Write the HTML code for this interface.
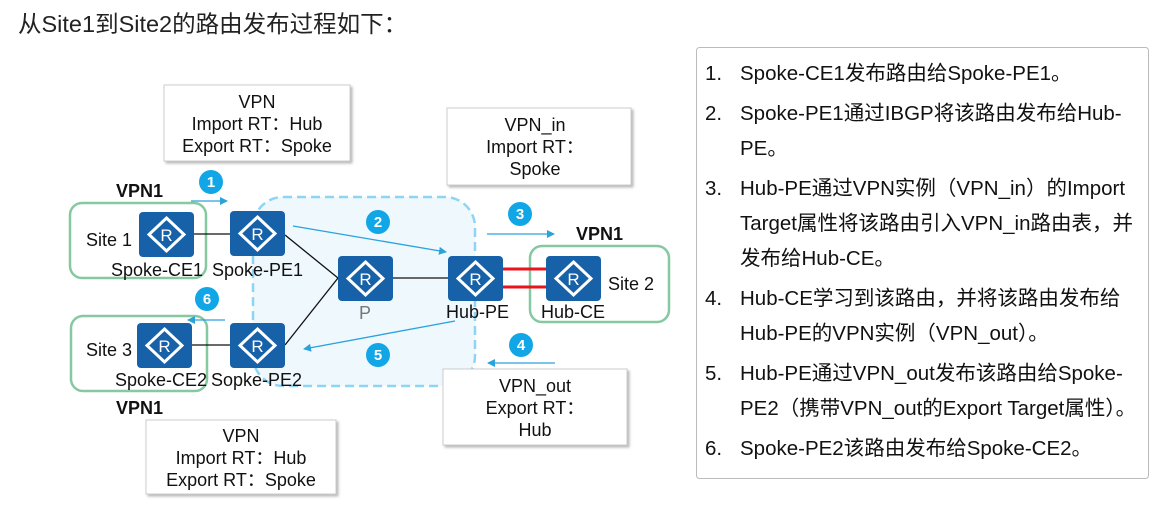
<!DOCTYPE html>
<html><head><meta charset="utf-8"><style>
body{margin:0;background:#fff;width:1167px;height:511px;overflow:hidden}
svg text{font-family:"Liberation Sans","Noto Sans CJK SC",sans-serif}
</style></head><body>
<svg width="1167" height="511" xmlns="http://www.w3.org/2000/svg">
<defs>
<g id="rt"><rect x="0" y="0" width="55" height="45" rx="4" fill="#1761a8"/>
<polygon points="27.5,6 45,22.5 27.5,39 10,22.5" fill="none" stroke="#fff" stroke-width="3"/>
<text x="27.5" y="29" font-size="17" fill="#fff" text-anchor="middle">R</text></g>
<marker id="ar" markerWidth="8" markerHeight="8" refX="7" refY="4" orient="auto" markerUnits="userSpaceOnUse"><path d="M0,0 L8,4 L0,8z" fill="#2aa2dc"/></marker>
<filter id="sh" x="-10%" y="-10%" width="130%" height="130%"><feDropShadow dx="2" dy="2" stdDeviation="1.2" flood-color="#888" flood-opacity="0.6"/></filter>
</defs>
<text x="18" y="32" font-size="23.5" fill="#222">从Site1到Site2的路由发布过程如下：</text>

<rect x="253" y="197" width="222" height="189" rx="30" fill="#eef8fd" stroke="#8ed4f5" stroke-width="2.5" stroke-dasharray="9,5"/>

<g filter="url(#sh)" fill="#fff" stroke="#ccc">
<rect x="164" y="85" width="186" height="76"/>
<rect x="447" y="108" width="184" height="77"/>
<rect x="443" y="369" width="184" height="76"/>
<rect x="146" y="420" width="190" height="74"/>
</g>
<g font-size="18" fill="#111" text-anchor="middle">
<text x="257" y="108">VPN</text><text x="257" y="130">Import RT：Hub</text><text x="257" y="152">Export RT：Spoke</text>
<text x="535" y="131">VPN_in</text><text x="535" y="153">Import RT：</text><text x="535" y="175">Spoke</text>
<text x="535" y="392">VPN_out</text><text x="535" y="414">Export RT：</text><text x="535" y="436">Hub</text>
<text x="241" y="442">VPN</text><text x="241" y="464">Import RT：Hub</text><text x="241" y="486">Export RT：Spoke</text>
</g>

<g fill="none" stroke="#86c9a0" stroke-width="2.5">
<rect x="70" y="203" width="136" height="75" rx="12"/>
<rect x="71" y="316" width="136" height="75" rx="12"/>
<rect x="530" y="246" width="139" height="76" rx="12"/>
</g>

<g stroke="#111" stroke-width="1.3">
<line x1="193" y1="234" x2="230" y2="234"/>
<line x1="192" y1="345" x2="230" y2="345"/>
<line x1="285" y1="235" x2="338" y2="278"/>
<line x1="285" y1="345" x2="338" y2="278"/>
<line x1="393" y1="278" x2="448" y2="278"/>
</g>
<g stroke="#e8141b" stroke-width="3">
<line x1="503" y1="269" x2="546" y2="269"/><line x1="503" y1="287" x2="546" y2="287"/>
</g>

<use href="#rt" x="139" y="212"/><use href="#rt" x="230" y="211"/>
<use href="#rt" x="338" y="256"/><use href="#rt" x="448" y="256"/>
<use href="#rt" x="546" y="256"/><use href="#rt" x="137" y="323"/>
<use href="#rt" x="230" y="323"/>

<g font-size="18" fill="#111">
<text x="86" y="246">Site 1</text><text x="86" y="356">Site 3</text><text x="608" y="290">Site 2</text>
<text x="111" y="276">Spoke-CE1</text><text x="212" y="276">Spoke-PE1</text>
<text x="115" y="386">Spoke-CE2</text><text x="211" y="386">Sopke-PE2</text>
<text x="446" y="318">Hub-PE</text><text x="541" y="318">Hub-CE</text>
<text x="359" y="319" fill="#777">P</text>
</g>
<g font-size="18" font-weight="bold" fill="#111">
<text x="116" y="197">VPN1</text><text x="576" y="240">VPN1</text><text x="116" y="414">VPN1</text>
</g>

<g stroke="#2aa2dc" stroke-width="1.3" marker-end="url(#ar)">
<line x1="191" y1="201" x2="227" y2="201"/>
<line x1="293" y1="226" x2="446" y2="252"/>
<line x1="487" y1="234" x2="554" y2="234"/>
<line x1="555" y1="363" x2="488" y2="363"/>
<line x1="455" y1="321" x2="304" y2="349"/>
<line x1="225" y1="320" x2="188" y2="320"/>
</g>
<g fill="#11a6e6">
<circle cx="211" cy="182" r="12"/><circle cx="378" cy="222" r="12"/><circle cx="520" cy="214" r="12"/>
<circle cx="521" cy="345" r="12"/><circle cx="378" cy="355" r="12"/><circle cx="207" cy="299" r="12"/>
</g>
<g font-size="15" font-weight="bold" fill="#fff" text-anchor="middle">
<text x="211" y="187">1</text><text x="378" y="227">2</text><text x="520" y="219">3</text>
<text x="521" y="350">4</text><text x="378" y="360">5</text><text x="207" y="304">6</text>
</g>

<rect x="696.5" y="47.5" width="452" height="431" rx="3" fill="#fff" stroke="#bbb"/>
<g font-size="20.5" fill="#111">
<text x="705" y="80">1.</text><text x="740" y="80">Spoke-CE1发布路由给Spoke-PE1。</text>
<text x="705" y="120">2.</text><text x="740" y="120">Spoke-PE1通过IBGP将该路由发布给Hub-</text>
<text x="740" y="155">PE。</text>
<text x="705" y="195">3.</text><text x="740" y="195">Hub-PE通过VPN实例（VPN_in）的Import</text>
<text x="740" y="230">Target属性将该路由引入VPN_in路由表，并</text>
<text x="740" y="265">发布给Hub-CE。</text>
<text x="705" y="305">4.</text><text x="740" y="305">Hub-CE学习到该路由，并将该路由发布给</text>
<text x="740" y="340">Hub-PE的VPN实例（VPN_out）。</text>
<text x="705" y="380">5.</text><text x="740" y="380">Hub-PE通过VPN_out发布该路由给Spoke-</text>
<text x="740" y="415">PE2（携带VPN_out的Export Target属性）。</text>
<text x="705" y="455">6.</text><text x="740" y="455">Spoke-PE2该路由发布给Spoke-CE2。</text>
</g>
</svg>
</body></html>
